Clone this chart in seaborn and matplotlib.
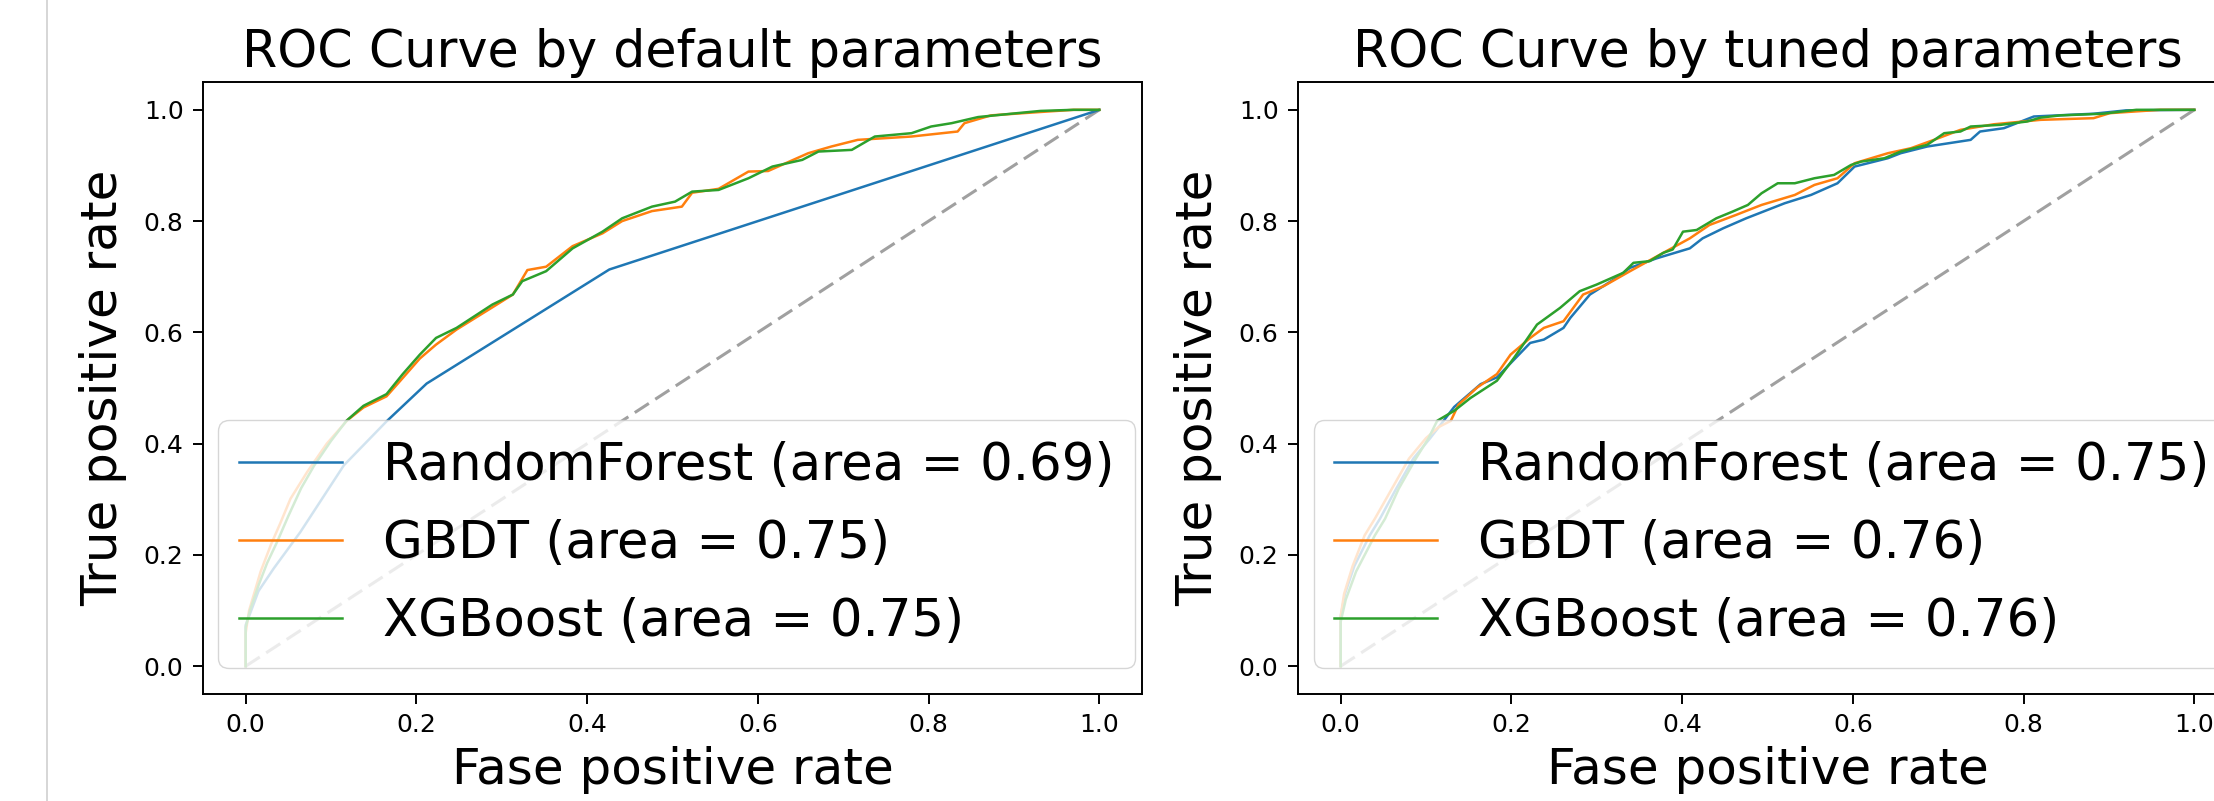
"""
ROC 曲线对比：默认参数 vs 调参后。
"""

import matplotlib.pyplot as plt
import matplotlib.lines as mlines
import seaborn as sns
import pandas as pd

# ---- 数据 ----
default_rf_fpr = [0, 0, 0.006, 0.015, 0.033, 0.064, 0.115, 0.165, 0.212, 0.426, 1.0]
default_rf_tpr = [0, 0.074, 0.098, 0.135, 0.176, 0.241, 0.361, 0.44, 0.508, 0.713, 1.0]

default_gbdt_fpr = [0, 0, 0.004, 0.0175, 0.03, 0.04, 0.0525, 0.072, 0.095, 0.119,
                    0.138, 0.165, 0.184, 0.204, 0.223, 0.247, 0.289, 0.313, 0.33,
                    0.352, 0.383, 0.418, 0.441, 0.476, 0.511, 0.523, 0.554, 0.589,
                    0.612, 0.659, 0.686, 0.717, 0.78, 0.834, 0.842, 0.873, 0.93,
                    0.97, 1.0]
default_gbdt_tpr = [0, 0.06, 0.10, 0.17, 0.22, 0.255, 0.301, 0.349, 0.40, 0.442,
                    0.465, 0.485, 0.518, 0.553, 0.578, 0.605, 0.645, 0.668, 0.712,
                    0.718, 0.755, 0.778, 0.800, 0.818, 0.826, 0.851, 0.858, 0.889,
                    0.890, 0.922, 0.934, 0.946, 0.952, 0.961, 0.976, 0.990, 0.996,
                    1.0, 1.0]

default_xgb_fpr = [0, 0, 0.005, 0.015, 0.025, 0.037, 0.05, 0.065, 0.08, 0.1, 0.118,
                   0.138, 0.165, 0.184, 0.204, 0.223, 0.247, 0.289, 0.313, 0.324,
                   0.352, 0.383, 0.418, 0.441, 0.476, 0.503, 0.523, 0.554, 0.589,
                   0.617, 0.652, 0.671, 0.710, 0.737, 0.780, 0.803, 0.827, 0.858,
                   0.897, 0.931, 0.970, 1.0]
default_xgb_tpr = [0, 0.07, 0.10, 0.145, 0.185, 0.224, 0.27, 0.32, 0.36, 0.405, 0.441,
                   0.468, 0.489, 0.525, 0.560, 0.590, 0.608, 0.650, 0.668, 0.692,
                   0.710, 0.751, 0.781, 0.805, 0.826, 0.835, 0.853, 0.856, 0.877,
                   0.898, 0.910, 0.925, 0.928, 0.952, 0.958, 0.970, 0.976, 0.987,
                   0.993, 0.998, 1.0, 1.0]

tuned_rf_fpr = [0, 0, 0.005, 0.016, 0.034, 0.046, 0.065, 0.085, 0.105, 0.12, 0.133,
                0.164, 0.183, 0.222, 0.238, 0.261, 0.269, 0.292, 0.323, 0.339,
                0.370, 0.409, 0.424, 0.448, 0.475, 0.485, 0.520, 0.551, 0.582,
                0.602, 0.641, 0.656, 0.687, 0.738, 0.749, 0.777, 0.812, 0.882,
                0.920, 1.0]
tuned_rf_tpr = [0, 0.09, 0.13, 0.18, 0.235, 0.265, 0.319, 0.373, 0.41, 0.44, 0.466,
                0.507, 0.519, 0.581, 0.587, 0.608, 0.626, 0.668, 0.698, 0.716,
                0.733, 0.751, 0.769, 0.787, 0.805, 0.811, 0.832, 0.847, 0.868,
                0.898, 0.913, 0.922, 0.934, 0.946, 0.961, 0.967, 0.988, 0.993,
                0.999, 1.0]

tuned_gbdt_fpr = [0, 0, 0.004, 0.014, 0.028, 0.04, 0.06, 0.08, 0.1, 0.115, 0.129,
                  0.138, 0.160, 0.183, 0.199, 0.222, 0.238, 0.261, 0.284, 0.308,
                  0.339, 0.378, 0.409, 0.432, 0.463, 0.493, 0.532, 0.555, 0.582,
                  0.602, 0.641, 0.668, 0.695, 0.726, 0.765, 0.820, 0.882, 0.901,
                  0.960, 1.0]
tuned_gbdt_tpr = [0, 0.09, 0.13, 0.18, 0.235, 0.265, 0.319, 0.373, 0.41, 0.43, 0.441,
                  0.47, 0.501, 0.525, 0.560, 0.590, 0.608, 0.620, 0.668, 0.683,
                  0.710, 0.743, 0.769, 0.793, 0.811, 0.829, 0.847, 0.865, 0.877,
                  0.904, 0.922, 0.931, 0.946, 0.964, 0.974, 0.982, 0.985, 0.994,
                  1.0, 1.0]

tuned_xgb_fpr = [0, 0, 0.006, 0.018, 0.04, 0.052, 0.068, 0.088, 0.103, 0.113, 0.133,
                 0.152, 0.168, 0.183, 0.203, 0.230, 0.257, 0.280, 0.300, 0.331,
                 0.343, 0.362, 0.378, 0.389, 0.401, 0.417, 0.440, 0.459, 0.477,
                 0.493, 0.512, 0.532, 0.555, 0.578, 0.598, 0.610, 0.637, 0.656,
                 0.687, 0.707, 0.726, 0.738, 0.773, 0.804, 0.820, 0.843, 0.893,
                 0.932, 1.0]
tuned_xgb_tpr = [0, 0.08, 0.12, 0.17, 0.235, 0.265, 0.319, 0.373, 0.41, 0.441, 0.459,
                 0.482, 0.498, 0.513, 0.554, 0.614, 0.644, 0.674, 0.686, 0.707,
                 0.725, 0.728, 0.743, 0.749, 0.781, 0.784, 0.805, 0.817, 0.829,
                 0.850, 0.868, 0.868, 0.877, 0.883, 0.901, 0.907, 0.913, 0.925,
                 0.937, 0.958, 0.961, 0.970, 0.973, 0.979, 0.986, 0.990, 0.993,
                 1.0, 1.0]

models = ["RandomForest", "GBDT", "XGBoost"]
default_auc = [0.69, 0.75, 0.75]
tuned_auc = [0.75, 0.76, 0.76]
chance = [0, 1]

colors = ["#1f77b4", "#ff7f0e", "#2ca02c"]

plt.rcParams.update(
    {
        "font.family": ["DejaVu Sans"],
        "xtick.labelsize": 18,
        "ytick.labelsize": 18,
        "xtick.major.size": 7,
        "ytick.major.size": 7,
        "xtick.major.pad": 7,
        "ytick.major.pad": 7,
        "xtick.major.width": 1.4,
        "ytick.major.width": 1.4,
        "axes.linewidth": 1.4,
    }
)


def build_frame(curves, aucs):
    rows = []
    for name, auc, (fpr, tpr) in zip(models, aucs, curves):
        label = f"{name} (area = {auc:.2f})"
        for x, y in zip(fpr, tpr):
            rows.append({"fpr": x, "tpr": y, "label": label})
    return pd.DataFrame(rows)


def plot_roc(ax, df, title):
    ax.plot(chance, chance, color="gray", alpha=0.75, lw=2.2, dashes=(5.5, 2.5))
    sns.lineplot(
        data=df, x="fpr", y="tpr", hue="label", palette=colors,
        sort=False, estimator=None, lw=1.8, ax=ax,
    )
    ax.set_title(title, fontsize=36.5, pad=11)
    ax.set_xlabel("Fase positive rate", fontsize=36, labelpad=6)
    ax.set_ylabel("True positive rate", fontsize=36, labelpad=12)
    ax.set_xticks([0, 0.2, 0.4, 0.6, 0.8, 1.0])
    ax.set_yticks([0, 0.2, 0.4, 0.6, 0.8, 1.0])

    labels = list(df["label"].unique())
    handles = [mlines.Line2D([], [], color=c, lw=1.8) for c in colors]
    ax.legend(
        handles, labels, loc="lower right", fontsize=37,
        bbox_to_anchor=(0.9925, 0.0425), borderaxespad=0,
        labelspacing=0.55,
    )


fig = plt.figure(figsize=(22.14, 8.01), dpi=100)
ax1 = fig.add_axes([203 / 2214, 107 / 801, 939 / 2214, 612 / 801])
ax2 = fig.add_axes([1298 / 2214, 107 / 801, 939 / 2214, 612 / 801])

default_df = build_frame(
    [(default_rf_fpr, default_rf_tpr), (default_gbdt_fpr, default_gbdt_tpr),
     (default_xgb_fpr, default_xgb_tpr)],
    default_auc,
)
tuned_df = build_frame(
    [(tuned_rf_fpr, tuned_rf_tpr), (tuned_gbdt_fpr, tuned_gbdt_tpr),
     (tuned_xgb_fpr, tuned_xgb_tpr)],
    tuned_auc,
)

plot_roc(ax1, default_df, "ROC Curve by default parameters")
plot_roc(ax2, tuned_df, "ROC Curve by tuned parameters")

# notebook 单元格左侧的边线
fig.add_artist(
    mlines.Line2D([47 / 2214, 47 / 2214], [0, 1], transform=fig.transFigure,
                  color="#d0d0d0", lw=1.2)
)

fig.savefig("out.png", dpi=100)
